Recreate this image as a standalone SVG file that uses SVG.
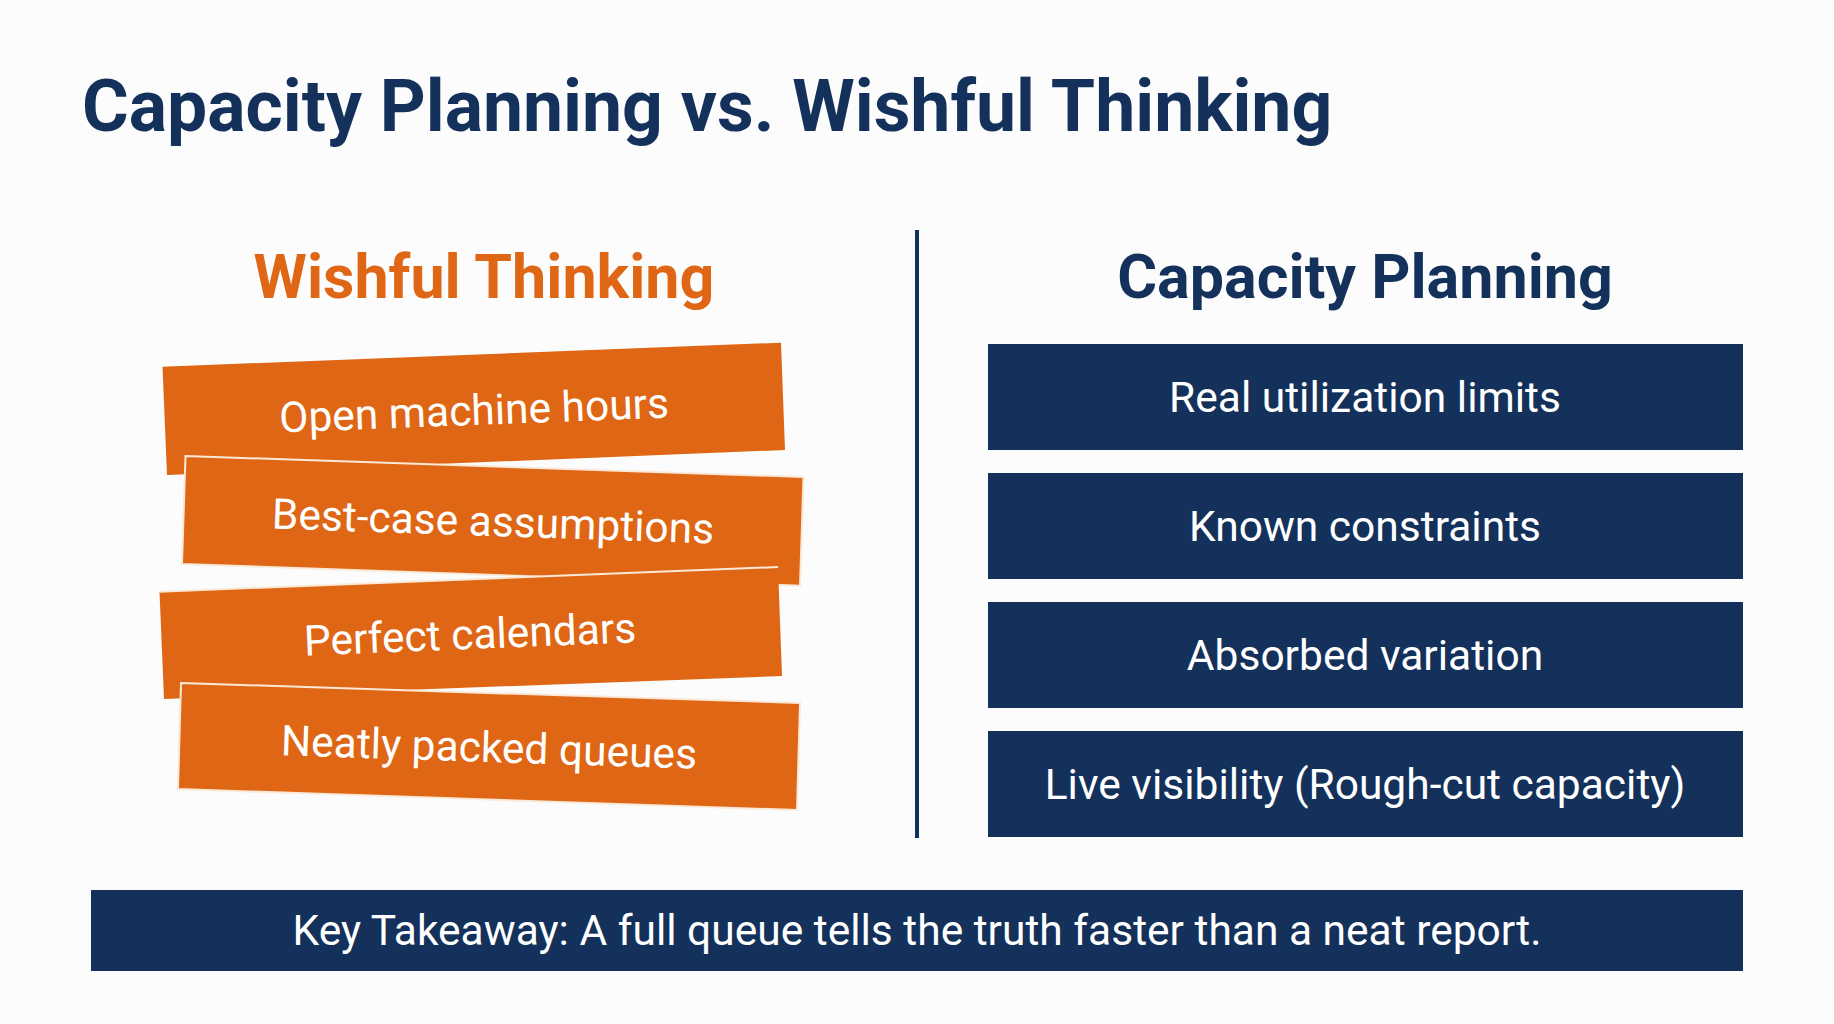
<svg xmlns="http://www.w3.org/2000/svg" width="1834" height="1024" viewBox="0 0 1834 1024">
<style>
.title{font-family:Roboto,"Liberation Sans",sans-serif;font-weight:700;fill:#13315a}
.hd{font-family:Roboto,"Liberation Sans",sans-serif;font-weight:700;text-anchor:middle}
.lbl{font-family:Roboto,"Liberation Sans",sans-serif;font-size:42.5px;fill:#ffffff;text-anchor:middle}
.orange{fill:#df6614}
.navy{fill:#13315a}
.edge{stroke:#fbe9d8;stroke-width:2}
</style>
<rect x="0" y="0" width="1834" height="1024" fill="#fcfcfc"/>
<text class="title" x="82" y="131" font-size="71.5">Capacity Planning vs. Wishful Thinking</text>
<g id="divider"><rect x="915" y="230" width="4" height="608" class="navy"/></g>
<g id="heading-wishful"><text class="hd" x="484" y="298" font-size="61" fill="#df6614">Wishful Thinking</text></g>
<g id="heading-capacity"><text class="hd" x="1365" y="298" font-size="61" fill="#13315a">Capacity Planning</text></g>
<g id="w1">
<polygon class="orange" points="162.5,366.7 781,342.7 785,450 167,475"/>
<text class="lbl" transform="translate(474,410) rotate(-2.2)" x="0" y="15">Open machine hours</text>
</g>
<g id="w2">
<polygon class="orange edge" points="185.5,456 803.5,477 800,585.7 182,564"/>
<text class="lbl" transform="translate(493,521) rotate(1.95)" x="0" y="15">Best-case assumptions</text>
</g>
<g id="w3">
<polygon class="orange" points="159.5,591.7 778,567 782,676 164,699"/>
<polyline points="159.5,591.7 778,567" fill="none" stroke="#fbe9d8" stroke-width="2"/>
<text class="lbl" transform="translate(470,634) rotate(-2.3)" x="0" y="15">Perfect calendars</text>
</g>
<g id="w4">
<polygon class="orange edge" points="181,683 800,703 797,810 178,789"/>
<text class="lbl" transform="translate(489,747) rotate(1.85)" x="0" y="15">Neatly packed queues</text>
</g>
<g id="c1"><rect class="navy" x="988" y="344" width="755" height="106"/><text class="lbl" x="1365" y="412">Real utilization limits</text></g>
<g id="c2"><rect class="navy" x="988" y="473" width="755" height="106"/><text class="lbl" x="1365" y="541">Known constraints</text></g>
<g id="c3"><rect class="navy" x="988" y="602" width="755" height="106"/><text class="lbl" x="1365" y="670">Absorbed variation</text></g>
<g id="c4"><rect class="navy" x="988" y="731" width="755" height="106"/><text class="lbl" x="1365" y="799">Live visibility (Rough-cut capacity)</text></g>
<g id="takeaway"><rect class="navy" x="91" y="890" width="1652" height="81"/><text class="lbl" x="917" y="945" font-size="38.3">Key Takeaway: A full queue tells the truth faster than a neat report.</text></g>
<g id="connectors"/>
</svg>
